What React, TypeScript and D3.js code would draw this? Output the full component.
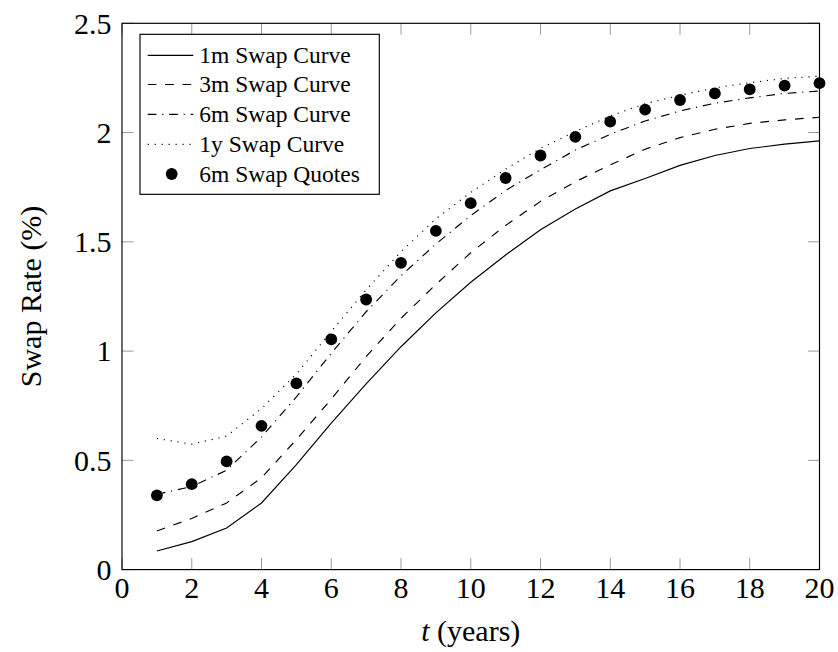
import React from "react";
import * as d3 from "d3";

const maturities = [1, 2, 3, 4, 5, 6, 7, 8, 9, 10, 11, 12, 13, 14, 15, 16, 17, 18, 19, 20];
const curve1m = [0.085, 0.128, 0.19, 0.305, 0.48, 0.67, 0.85, 1.02, 1.175, 1.315, 1.44, 1.555, 1.65, 1.733, 1.79, 1.85, 1.895, 1.927, 1.947, 1.962];
const curve3m = [0.177, 0.234, 0.305, 0.42, 0.595, 0.78, 0.975, 1.15, 1.305, 1.45, 1.575, 1.685, 1.775, 1.852, 1.924, 1.977, 2.015, 2.042, 2.058, 2.07];
const curve6m = [0.345, 0.38, 0.455, 0.607, 0.79, 0.99, 1.18, 1.345, 1.49, 1.62, 1.735, 1.83, 1.92, 1.992, 2.053, 2.099, 2.134, 2.159, 2.179, 2.19];
const curve1y = [0.6, 0.574, 0.611, 0.737, 0.895, 1.09, 1.28, 1.455, 1.605, 1.726, 1.833, 1.928, 2.005, 2.076, 2.132, 2.17, 2.205, 2.228, 2.248, 2.258];
const quotes6m = [0.34, 0.391, 0.495, 0.658, 0.852, 1.054, 1.236, 1.404, 1.55, 1.677, 1.792, 1.895, 1.98, 2.05, 2.105, 2.149, 2.179, 2.198, 2.215, 2.226];

const xTicks = [0, 2, 4, 6, 8, 10, 12, 14, 16, 18, 20];
const yTicks = [0, 0.5, 1, 1.5, 2, 2.5];
const yTickLabels = ["0", "0.5", "1", "1.5", "2", "2.5"];

const seriesNames = ["1m Swap Curve", "3m Swap Curve", "6m Swap Curve", "1y Swap Curve", "6m Swap Quotes"];

const FONT = '"Times New Roman", Times, Tinos, "Nimbus Roman", "Noto Serif", FreeSerif, "Liberation Serif", serif';

export default function App() {
  const W = 838, H = 652;
  const left = 122, right = 819.5, top = 23.3, bottom = 569.6;
  const x = d3.scaleLinear().domain([0, 20]).range([left, right]);
  const y = d3.scaleLinear().domain([0, 2.5]).range([bottom, top]);
  const lw = 1.16;

  const mk = (vals: number[]) =>
    d3.line<number>().x((_, i) => x(maturities[i])).y((v) => y(v)).curve(d3.curveLinear)(vals) || "";

  const styles = [
    { vals: curve1m, dash: "none" },
    { vals: curve3m, dash: "8.7 8.7" },
    { vals: curve6m, dash: "8.7 5.8 1.16 5.8" },
    { vals: curve1y, dash: "1.16 5.8" },
  ];

  const tickLen = 11.5;
  const tickColor = "#9a9a9a";

  const legX = 140, legY = 34.3, legW = 239.3, legH = 160;
  const rowY = [55.3, 84.5, 114.3, 144.3, 174];
  const txt = { fontFamily: FONT };

  return (
    <svg width={W} height={H} style={{ position: "absolute", left: 0, top: 0, background: "#fff" }}>
      <rect x={0} y={0} width={W} height={H} fill="#fff" />
      {xTicks.map((t) => (
        <g key={"xt" + t}>
          <line x1={x(t)} x2={x(t)} y1={bottom} y2={bottom - tickLen} stroke={tickColor} strokeWidth={1} />
          <line x1={x(t)} x2={x(t)} y1={top} y2={top + tickLen} stroke={tickColor} strokeWidth={1} />
        </g>
      ))}
      {yTicks.map((t) => (
        <g key={"yt" + t}>
          <line x1={left} x2={left + tickLen} y1={y(t)} y2={y(t)} stroke={tickColor} strokeWidth={1} />
          <line x1={right} x2={right - tickLen} y1={y(t)} y2={y(t)} stroke={tickColor} strokeWidth={1} />
        </g>
      ))}
      {styles.map((s, i) => (
        <path key={"c" + i} d={mk(s.vals)} fill="none" stroke="#000" strokeWidth={lw} strokeDasharray={s.dash} />
      ))}
      {quotes6m.map((v, i) => (
        <circle key={"q" + i} cx={x(maturities[i])} cy={y(v)} r={5.9} fill="#000" />
      ))}
      <rect x={left} y={top} width={right - left} height={bottom - top} fill="none" stroke="#000" strokeWidth={lw} />
      {xTicks.map((t) => (
        <text key={"xl" + t} x={x(t)} y={598} textAnchor="middle" fontSize={30} fill="#000" style={txt}>
          {t}
        </text>
      ))}
      {yTicks.map((t, i) => (
        <text key={"yl" + t} x={111.5} y={y(t) + 10.2} textAnchor="end" fontSize={30} fill="#000" style={txt}>
          {yTickLabels[i]}
        </text>
      ))}
      <text x={(left + right) / 2} y={641} textAnchor="middle" fontSize={30} fill="#000" style={txt}>
        <tspan fontStyle="italic">t</tspan> (years)
      </text>
      <text transform={`translate(41,${(top + bottom) / 2}) rotate(-90)`} textAnchor="middle" fontSize={30} fill="#000" style={txt}>
        Swap Rate (%)
      </text>
      <rect x={legX} y={legY} width={legW} height={legH} fill="#fff" stroke="#000" strokeWidth={lw} />
      {styles.map((s, i) => (
        <line key={"ll" + i} x1={147.7} x2={193.3} y1={rowY[i]} y2={rowY[i]} stroke="#000" strokeWidth={lw} strokeDasharray={s.dash} />
      ))}
      <circle cx={171.7} cy={rowY[4]} r={5.9} fill="#000" />
      {seriesNames.map((n, i) => (
        <text key={"lt" + i} x={199.3} y={rowY[i] + 7.8} fontSize={23.5} fill="#000" style={txt}>
          {n}
        </text>
      ))}
    </svg>
  );
}
